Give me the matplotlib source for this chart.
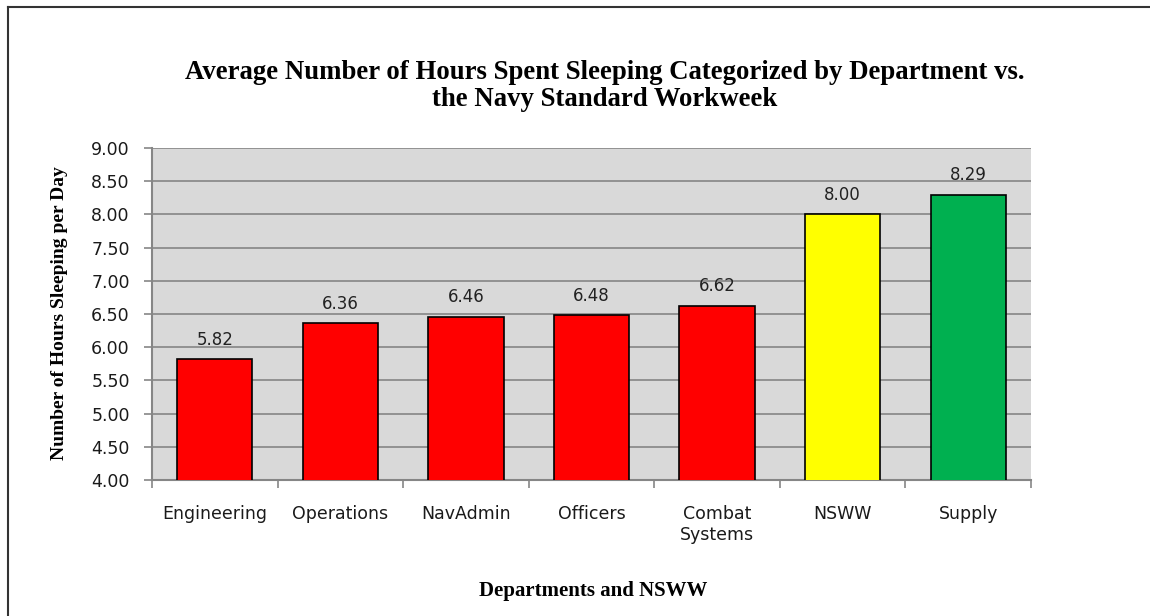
import matplotlib
matplotlib.use("Agg")
import matplotlib.pyplot as plt
from matplotlib.lines import Line2D

# data
departments = ["Engineering", "Operations", "NavAdmin", "Officers", "Combat\nSystems", "NSWW", "Supply"]
hours = [5.82, 6.36, 6.46, 6.48, 6.62, 8.00, 8.29]
bar_colors = ["#ff0000", "#ff0000", "#ff0000", "#ff0000", "#ff0000", "#ffff00", "#00b050"]
y_ticks = [4.00, 4.50, 5.00, 5.50, 6.00, 6.50, 7.00, 7.50, 8.00, 8.50, 9.00]

serif = ["Liberation Serif", "DejaVu Serif"]
sans = ["DejaVu Sans"]

fig = plt.figure(figsize=(11.5, 6.16), dpi=100)
ax = fig.add_axes([0.1322, 0.2208, 0.7643, 0.539])

ax.set_facecolor("#d9d9d9")
x = range(len(departments))
ax.bar(x, hours, width=0.6, bottom=0, color=bar_colors, edgecolor="black", linewidth=1.2, zorder=3)

for i, v in enumerate(hours):
    ax.text(i, v + 0.16, "%.2f" % v, ha="center", va="bottom", fontsize=12, family=sans, color="#222222")

ax.set_ylim(4, 9)
ax.set_xlim(-0.5, len(departments) - 0.5)
ax.set_yticks(y_ticks)
ax.set_yticklabels(["%.2f" % t for t in y_ticks], family=sans, fontsize=12.5, color="#1a1a1a")
ax.yaxis.grid(True, color="#868686", linewidth=1.2, zorder=1)
ax.set_axisbelow(True)

# category labels between boundary ticks, like Excel
ax.set_xticks([i + 0.5 for i in range(-1, len(departments))])
ax.set_xticklabels([])
ax.set_xticks(list(x), minor=True)
ax.set_xticklabels(departments, minor=True, family=sans, fontsize=12.5, va="top", linespacing=1.2, color="#1a1a1a")
ax.tick_params(axis="x", which="minor", length=0, pad=18)
ax.tick_params(axis="x", which="major", length=6, color="#868686", width=1.2, direction="out")
ax.tick_params(axis="y", length=6, color="#868686", width=1.2, pad=10)

for s in ["top", "right"]:
    ax.spines[s].set_visible(False)
for s in ["left", "bottom"]:
    ax.spines[s].set_color("#868686")
    ax.spines[s].set_linewidth(1.5)

fig.text(0.526, 0.8605, "Average Number of Hours Spent Sleeping Categorized by Department vs.\nthe Navy Standard Workweek",
         ha="center", va="center", family=serif, fontweight="bold", fontsize=19.3, linespacing=1.12)
fig.text(0.052, 0.492, "Number of Hours Sleeping per Day", rotation=90, ha="center", va="center",
         family=serif, fontweight="bold", fontsize=14)
fig.text(0.516, 0.04, "Departments and NSWW", ha="center", va="center",
         family=serif, fontweight="bold", fontsize=15)

# outer frame, only top and left edges are in the crop
fig.add_artist(Line2D([0.007, 0.007], [0, 0.989], transform=fig.transFigure, color="#333333", linewidth=1.5))
fig.add_artist(Line2D([0.007, 1.0], [0.989, 0.989], transform=fig.transFigure, color="#333333", linewidth=1.5))

fig.savefig("out.png", dpi=100)
